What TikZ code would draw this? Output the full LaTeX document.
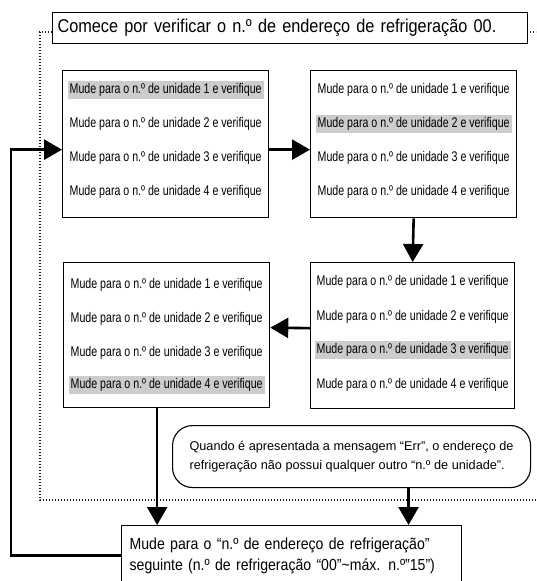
\documentclass[tikz,border=0pt]{standalone}
\usepackage{fontspec}
\setmainfont{Liberation Sans}
\newfontfamily\narrowfont{Liberation Sans}[FakeStretch=0.76]
\newfontfamily\semifont{Liberation Sans}[FakeStretch=0.88]
\usepackage{xcolor}
\usetikzlibrary{arrows.meta,positioning}
\definecolor{selgray}{RGB}{204,204,204}
\definecolor{frameink}{RGB}{30,30,30}

\begin{document}
\begin{tikzpicture}[x=1pt,y=-1pt,
  unitbox/.style={draw,line width=1.3pt,anchor=north west,
    minimum width=206pt,minimum height=147pt,inner sep=0pt},
  unitrow/.style={font=\narrowfont\fontsize{14}{15}\selectfont,
    inner xsep=2pt,inner ysep=2pt},
  unitsel/.style={unitrow,fill=selgray},
  flowarrow/.style={line width=2.6pt,-{Triangle[length=18pt,width=20pt]}},
  dotframe/.style={frameink,line width=1.2pt,dash pattern=on 1.2pt off 1.8pt}]

\useasboundingbox (0,0) rectangle (536,581);
\clip (0,0) rectangle (536,581);

%% ── dotted frame ─────────────────────────────────────────────────────────────
\draw[dotframe] (52,32) -- (40,32) -- (40,500) -- (536,500);
\draw[dotframe] (527,32) -- (536,32);

%% ── title ────────────────────────────────────────────────────────────────────
\node[draw,line width=1.1pt,fill=white,anchor=north west,minimum height=31pt,
  text width=465pt,inner xsep=5pt,align=left,
  font=\semifont\fontsize{18.5}{21}\selectfont] (title) at (52,12)
  {Comece por verificar o n.º de endereço de refrigeração 00.};

%% ════════════════════════════════════════════════════════════════════════════
%%  TOP ROW — unit 1 and unit 2
%% ════════════════════════════════════════════════════════════════════════════
\node[unitbox] (box1) at (62,70) {};
\node[unitsel] (b1r1) at ([yshift=-20pt]box1.north) {Mude para o n.º de unidade 1 e verifique};
\node[unitrow] (b1r2) at ([yshift=-54pt]box1.north) {Mude para o n.º de unidade 2 e verifique};
\node[unitrow] (b1r3) at ([yshift=-88pt]box1.north) {Mude para o n.º de unidade 3 e verifique};
\node[unitrow] (b1r4) at ([yshift=-122pt]box1.north) {Mude para o n.º de unidade 4 e verifique};

\node[unitbox] (box2) at (310,70) {};
\node[unitrow] (b2r1) at ([yshift=-20pt]box2.north) {Mude para o n.º de unidade 1 e verifique};
\node[unitsel] (b2r2) at ([yshift=-54pt]box2.north) {Mude para o n.º de unidade 2 e verifique};
\node[unitrow] (b2r3) at ([yshift=-88pt]box2.north) {Mude para o n.º de unidade 3 e verifique};
\node[unitrow] (b2r4) at ([yshift=-122pt]box2.north) {Mude para o n.º de unidade 4 e verifique};

%% ════════════════════════════════════════════════════════════════════════════
%%  MIDDLE ROW — unit 4 (left) and unit 3 (right)
%% ════════════════════════════════════════════════════════════════════════════
\node[unitbox,minimum height=145pt] (box3) at (63,262) {};
\node[unitrow] (b3r1) at ([yshift=-23pt]box3.north) {Mude para o n.º de unidade 1 e verifique};
\node[unitrow] (b3r2) at ([yshift=-57pt]box3.north) {Mude para o n.º de unidade 2 e verifique};
\node[unitrow] (b3r3) at ([yshift=-91pt]box3.north) {Mude para o n.º de unidade 3 e verifique};
\node[unitsel] (b3r4) at ([yshift=-123pt]box3.north) {Mude para o n.º de unidade 4 e verifique};

\node[unitbox,minimum height=146pt,minimum width=204pt] (box4) at (310,262) {};
\node[unitrow] (b4r1) at ([yshift=-20pt]box4.north) {Mude para o n.º de unidade 1 e verifique};
\node[unitrow] (b4r2) at ([yshift=-55pt]box4.north) {Mude para o n.º de unidade 2 e verifique};
\node[unitsel] (b4r3) at ([yshift=-88pt]box4.north) {Mude para o n.º de unidade 3 e verifique};
\node[unitrow] (b4r4) at ([yshift=-123pt]box4.north) {Mude para o n.º de unidade 4 e verifique};

%% ── note on "Err" ────────────────────────────────────────────────────────────
\node[draw,line width=1.1pt,rounded corners=20pt,anchor=north west,
  minimum width=358pt,minimum height=62pt,inner xsep=15pt,align=left,
  font=\fontsize{12.7}{18.6}\selectfont] (errnote) at (172,425)
  {Quando é apresentada a mensagem “Err”, o endereço de\\
   refrigeração não possui qualquer outro “n.º de unidade”.};

%% ── next address ─────────────────────────────────────────────────────────────
\node[draw,line width=1.3pt,anchor=north west,minimum height=60pt,
  text width=324pt,inner xsep=8pt,align=left,
  font=\semifont\fontsize{16}{20.5}\selectfont] (nextaddr) at (121,525)
  {Mude para o “n.º de endereço de refrigeração”\\
   seguinte (n.º de refrigeração “00”\textasciitilde máx. n.º”15”)};

%% ── arrows ───────────────────────────────────────────────────────────────────
\draw[flowarrow] ([yshift=-5.5pt]box1.east) -- ([yshift=-5.5pt]box2.west);
\draw[flowarrow] (box2.south) -- (box4.north);
\draw[flowarrow] ([yshift=7.5pt]box4.west) -- ([yshift=7.5pt]box3.east);
\draw[flowarrow] ([xshift=-9.5pt]box3.south) -- ([xshift=-9.5pt]box3.south |- nextaddr.north);
\draw[flowarrow] ([xshift=57pt]errnote.south) -- ([xshift=57pt]errnote.south |- nextaddr.north);

%% loop back to the first unit box
\draw[flowarrow] (nextaddr.west) -- ++(-110,0) |- ([yshift=-5.5pt]box1.west);

\end{tikzpicture}
\end{document}
